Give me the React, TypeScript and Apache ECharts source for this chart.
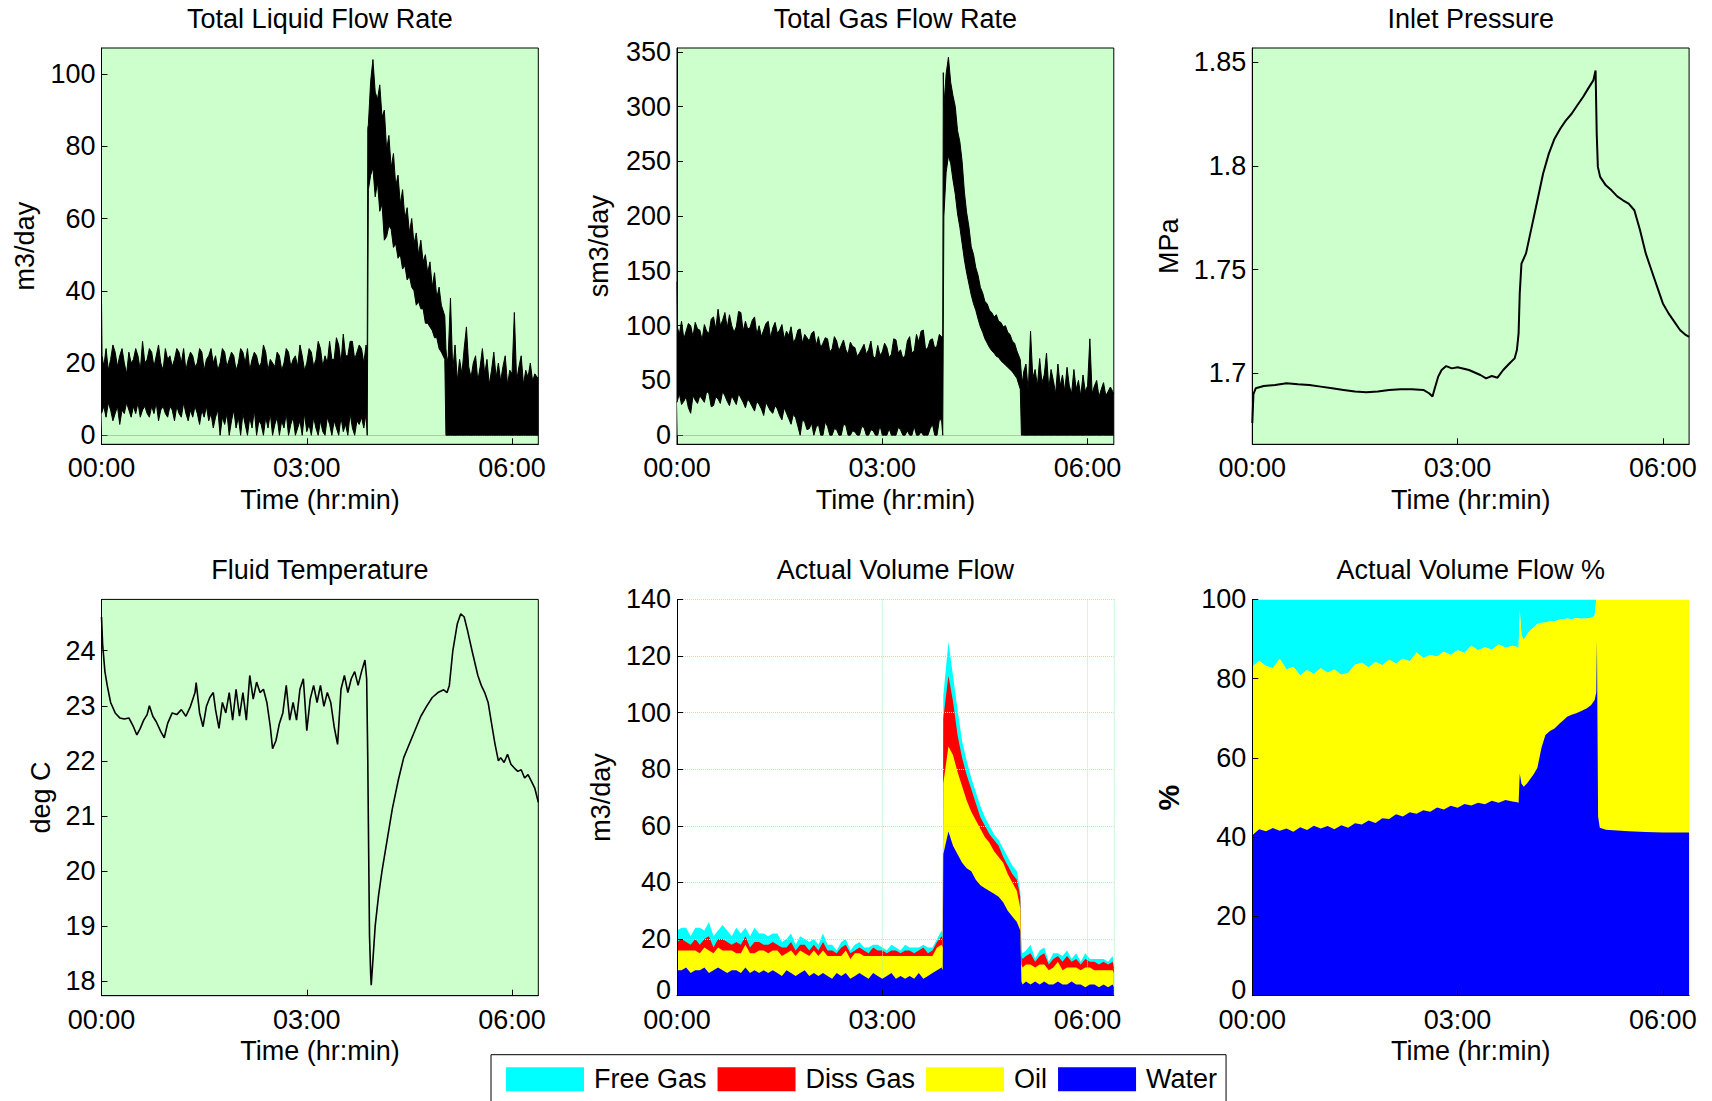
import React, { useEffect, useRef } from "react";
import * as echarts from "echarts";

// ---------- time base for the two flow-rate panels (minutes from 00:00) ----------
const bandMinutes = [
  0, 0.5,
  2, 4, 6, 8, 10, 12, 14, 16, 18, 20, 22, 24, 26, 28, 30, 32, 34, 36, 38, 40,
  42, 44, 46, 48, 50, 52, 54, 56, 58, 60, 62, 64, 66, 68, 70, 72, 74, 76, 78, 80,
  82, 84, 86, 88, 90, 92, 94, 96, 98, 100, 102, 104, 106, 108, 110, 112, 114, 116, 118, 120,
  122, 124, 126, 128, 130, 132, 134, 136, 138, 140, 142, 144, 146, 148, 150, 152, 154, 156, 158, 160,
  162, 164, 166, 168, 170, 172, 174, 176, 178, 180, 182, 184, 186, 188, 190, 192, 194, 196, 198, 200,
  202, 204, 206, 208, 210, 212, 214, 216, 218, 220, 222, 224, 226, 228, 230, 232,
  233, 233.5,
  234, 236, 238, 240, 242, 244, 246, 248, 250, 252, 254, 256, 258, 260, 262, 264, 266, 268, 270, 272,
  274, 276, 278, 280, 282, 284, 286, 288, 290, 292, 294, 296, 298,
  301,
  302, 303,
  304, 306, 308, 310, 312, 314, 316, 318, 320, 322, 324, 326, 328, 330, 332, 334, 336, 338, 340, 342,
  344, 346, 348, 350, 352, 354, 356, 358, 360, 362, 364, 366, 368, 370, 372, 374, 376, 378, 380, 382,
  383,
];

const timeTickLabels = ["00:00", "03:00", "06:00"];

// ---------- Total Liquid Flow Rate (m3/day): noise envelope ----------
const liquidHigh = [
  37, 22,
  19, 24, 18, 21, 25, 23, 19, 22, 24, 20,
  17, 23, 20, 21, 24, 22, 18, 26, 20, 21,
  24, 23, 19, 22, 25, 20, 18, 24, 21, 22,
  19, 21, 24, 23, 20, 24, 18, 21, 23, 22,
  19, 20, 24, 23, 18, 21, 22, 24, 20, 22,
  18, 20, 24, 23, 19, 21, 23, 22, 18, 20,
  24, 23, 20, 24, 18, 21, 23, 22, 19, 20,
  25, 23, 18, 21, 20, 19, 23, 22, 18, 20,
  24, 23, 19, 21, 22, 19, 25, 22, 18, 20,
  24, 23, 19, 21, 26, 24, 19, 22, 20, 26,
  21, 21, 27, 25, 20, 28, 22, 22, 26, 26,
  21, 23, 25, 24, 20, 25,
  22, 85,
  86, 98, 104, 95, 93, 97, 88, 90, 79, 83,
  74, 78, 69, 72, 64, 68, 60, 63, 56, 60,
  53, 56, 50, 54, 48, 50, 45, 48, 41, 45,
  38, 41, 36,
  33,
  24, 20,
  22, 38, 18, 25, 15, 21, 17, 24, 30, 19,
  16, 20, 22, 15, 19, 24, 17, 21, 14, 18,
  23, 16, 20, 15, 19, 22, 14, 18, 17, 34,
  15, 19, 22, 14, 18, 16, 20, 15, 17, 16,
  16,
];
const liquidLow = [
  6, 6,
  8, 5, 9, 7, 4, 6, 8, 3, 7, 6,
  9, 7, 5, 8, 6, 9, 5, 7, 8, 6,
  5, 8, 6, 9, 4, 7, 8, 6, 5, 8,
  7, 4, 8, 6, 5, 9, 6, 4, 7, 5,
  8, 6, 3, 7, 5, 8, 4, 6, 2, 5,
  7, 0, 5, 3, 6, 0, 4, 7, 2, 5,
  0, 6, 3, 0, 5, 2, 7, 0, 4, 3,
  0, 5, 2, 6, 0, 3, 5, 0, 4, 2,
  6, 0, 3, 5, 0, 2, 4, 0, 6, 1,
  3, 0, 5, 2, 0, 4, 1, 0, 5, 3,
  0, 4, 2, 0, 5, 1, 3, 0, 6, 2,
  0, 4, 3, 5, 2, 6,
  0, 0,
  68, 72, 74, 66, 70, 62, 64, 54, 55, 58,
  57, 52, 53, 49, 50, 46, 47, 43, 44, 41,
  40, 36, 37, 35, 35, 31, 31, 30, 29, 27,
  27, 24, 23,
  21,
  0, 0,
  0, 0, 0, 0, 0, 0, 0, 0, 0, 0,
  0, 0, 0, 0, 0, 0, 0, 0, 0, 0,
  0, 0, 0, 0, 0, 0, 0, 0, 0, 0,
  0, 0, 0, 0, 0, 0, 0, 0, 0, 0,
  0,
];

// ---------- Total Gas Flow Rate (sm3/day): noise envelope ----------
const gasHigh = [
  140, 98,
  92, 104, 88, 95, 102, 100, 90, 103, 97, 96,
  87, 101, 95, 93, 106, 108, 97, 115, 100, 105,
  112, 98, 110, 100, 94, 99, 113, 112, 95, 104,
  97, 98, 105, 108, 92, 100, 90, 96, 102, 104,
  89, 98, 103, 93, 96, 101, 88, 95, 91, 99,
  85, 88, 96, 97, 84, 92, 89, 86, 93, 95,
  82, 90, 80, 84, 89, 88, 76, 79, 90, 86,
  77, 82, 87, 78, 74, 85, 81, 80, 72, 75,
  79, 83, 74, 78, 86, 72, 70, 82, 73, 76,
  84, 80, 71, 74, 88, 87, 75, 78, 70, 73,
  86, 90, 75, 77, 92, 85, 95, 96, 78, 80,
  87, 88, 79, 82, 92, 90,
  90, 331,
  300, 330, 345, 322, 310, 300, 278, 268, 250, 222,
  203, 190, 172, 165, 153, 146, 135, 130, 122, 120,
  114, 112, 108, 110, 104, 103, 99, 100, 94, 92,
  86, 84, 77,
  69,
  55, 48,
  58, 65, 40, 95, 52, 60, 45, 70, 48, 55,
  75, 42, 60, 50, 38, 65, 45, 55, 40, 62,
  45, 38, 60, 42, 50, 36, 55, 40, 45, 88,
  38, 45, 50, 35, 42, 48, 36, 40, 44, 40,
  38,
];
const gasLow = [
  30, 30,
  38, 28, 31, 35, 25, 20, 36, 32, 29, 36,
  33, 30, 40, 38, 26, 27, 35, 33, 29, 40,
  36, 31, 27, 36, 32, 28, 38, 34, 30, 25,
  33, 30, 26, 22, 31, 28, 24, 18, 30, 26,
  22, 20, 27, 24, 18, 14, 25, 20, 15, 10,
  19, 16, 8, 0, 14, 12, 5, 6, 11, 0,
  7, 10, 0, 0, 12, 8, 0, 0, 6, 5,
  0, 0, 10, 9, 0, 0, 4, 3, 0, 0,
  8, 7, 0, 0, 5, 4, 0, 0, 9, 0,
  0, 0, 6, 0, 0, 0, 7, 5, 0, 0,
  4, 0, 0, 8, 0, 0, 3, 0, 0, 0,
  6, 10, 0, 0, 14, 14,
  0, 0,
  200, 240, 255, 248, 233, 220, 202, 190, 175, 160,
  148, 138, 128, 120, 114, 106, 99, 94, 88, 84,
  80, 77, 75, 72, 71, 68, 66, 64, 62, 60,
  58, 55, 52,
  42,
  0, 0,
  0, 0, 0, 0, 0, 0, 0, 0, 0, 0,
  0, 0, 0, 0, 0, 0, 0, 0, 0, 0,
  0, 0, 0, 0, 0, 0, 0, 0, 0, 0,
  0, 0, 0, 0, 0, 0, 0, 0, 0, 0,
  0,
];

// ---------- Inlet Pressure (MPa) ----------
const pressureMinutes = [
  0, 1, 3, 10, 20, 30, 40, 50, 60, 70,
  80, 90, 100, 110, 120, 130, 140, 150, 155, 158,
  160, 163, 166, 170, 175, 180, 190, 200, 205, 210,
  215, 220, 225, 230, 232, 233.5, 234.5, 236, 240, 245,
  250, 255, 260, 265, 270, 275, 280, 285, 290, 295,
  299, 301, 302, 303, 305, 310, 315, 320, 325, 330,
  335, 340, 345, 350, 355, 360, 365, 370, 375, 380,
  383,
];
const pressureValues = [
  1.676, 1.69, 1.6928, 1.6939, 1.6944, 1.6952, 1.6947, 1.6944, 1.6936, 1.6928,
  1.692, 1.6912, 1.6909, 1.6912, 1.692, 1.6923, 1.6923, 1.692, 1.6904, 1.6888,
  1.6928, 1.6984, 1.7016, 1.7035, 1.7024, 1.7029, 1.7016, 1.6992, 1.6976, 1.6987,
  1.6979, 1.7016, 1.7045, 1.7072, 1.7112, 1.7193, 1.7385, 1.7529, 1.7578, 1.7706,
  1.7834, 1.7963, 1.8059, 1.8131, 1.8179, 1.8219, 1.8251, 1.8292, 1.8332, 1.8377,
  1.8412, 1.846, 1.8155, 1.7995, 1.7947, 1.7906, 1.7882, 1.7853, 1.7834, 1.7818,
  1.7786, 1.769, 1.7578, 1.7497, 1.7417, 1.7337, 1.7289, 1.7249, 1.7209, 1.7185,
  1.7176,
];

// ---------- Fluid Temperature (deg C) ----------
const tempMinutes = [
  0, 1, 3, 5, 8, 12, 16, 20, 24, 28,
  31, 34, 37, 40, 42, 45, 48, 52, 55, 58,
  62, 66, 70, 74, 78, 82, 83, 86, 89, 92,
  95, 98, 100, 103, 106, 109, 112, 115, 118, 121,
  124, 127, 130, 133, 136, 139, 142, 145, 148, 150,
  153, 156, 159, 162, 165, 168, 171, 174, 177, 180,
  183, 186, 189, 192, 195, 198, 201, 204, 207, 210,
  213, 216, 219, 222, 225, 228, 231, 232.5, 233.5, 234,
  235, 236, 236.5, 238, 240, 243, 246, 250, 255, 260,
  265, 270, 275, 280, 285, 290, 295, 300, 303, 305,
  308, 312, 315, 318, 321, 325, 330, 333, 336, 339,
  342, 345, 348, 350, 353, 356, 359, 362, 365, 368,
  371, 374, 377, 380, 383,
];
const tempValues = [
  24.61, 24.11, 23.62, 23.37, 23.06, 22.87, 22.78, 22.76, 22.78, 22.62,
  22.47, 22.59, 22.74, 22.84, 23.0, 22.81, 22.71, 22.53, 22.42, 22.68,
  22.87, 22.84, 22.93, 22.81, 22.99, 23.24, 23.42, 22.87, 22.62, 22.99,
  23.15, 23.24, 22.93, 22.59, 23.06, 22.87, 23.24, 22.74, 23.3, 22.81,
  23.24, 22.74, 23.55, 23.12, 23.43, 23.24, 23.3, 23.06, 22.62, 22.22,
  22.37, 22.68, 22.87, 23.37, 22.74, 23.06, 22.74, 23.3, 23.49, 22.55,
  23.12, 23.37, 23.06, 23.37, 22.99, 23.24, 23.06, 22.62, 22.3, 23.3,
  23.55, 23.24, 23.49, 23.62, 23.37, 23.62, 23.83, 23.49, 22.0, 20.88,
  18.83, 18.14, 17.93, 18.39, 19.01, 19.57, 20.01, 20.51, 21.13, 21.63,
  22.06, 22.31, 22.56, 22.81, 22.99, 23.15, 23.24, 23.29, 23.24, 23.37,
  23.99, 24.49, 24.67, 24.61, 24.36, 23.99, 23.55, 23.37, 23.24, 23.06,
  22.68, 22.31, 22.0, 22.06, 21.97, 22.12, 21.94, 21.87, 21.81, 21.84,
  21.69, 21.75, 21.63, 21.5, 21.25,
];

// ---------- Actual Volume Flow (m3/day), per phase ----------
const flowMinutes = [
  0, 0.5, 4, 8, 12, 16, 20, 24, 28, 32, 36, 40, 44, 48, 52, 56, 60, 64, 68, 72, 76, 80, 84, 88, 92, 96, 100,
  104, 108, 112, 116, 120, 124, 128, 132, 136, 140, 144, 148, 152, 156, 160, 164, 168, 172, 176, 180, 184,
  188, 192, 196, 200, 204, 208, 212, 216, 220, 224, 228, 232,
  233, 233.5,
  234, 238, 242, 246, 250, 254, 258, 262, 266, 270, 274, 278, 282, 286, 290, 294, 298,
  301,
  302, 303, 306, 310, 314, 318, 322, 326, 330, 334, 338, 342, 346, 350, 354, 358, 362, 366, 370, 374, 378, 382,
  383,
];
const waterFlow = [
  9, 9, 9, 10, 8, 9, 9, 10, 8, 9, 10, 9, 8, 9, 9, 8, 10, 8, 9, 8, 9, 8,
  9, 8, 7, 9, 8, 7, 8, 9, 7, 8, 7, 8, 7, 6, 8, 7, 8, 6, 7, 8,
  7, 6, 8, 7, 6, 7, 8, 6, 7, 6, 7, 6, 8, 6, 7, 8, 9, 10,
  9, 50,
  50, 58, 53, 50, 47, 45, 44, 41, 39, 38, 37, 36, 35, 33, 30, 28, 26,
  23,
  5, 4, 5, 4, 5, 4, 5, 4, 4, 5, 4, 4, 5, 4, 4, 3, 4, 4, 3, 4, 3, 4,
  3,
];
const oilFlow = [
  7, 7, 7, 6, 8, 7, 6, 7, 8, 6, 7, 7, 8, 7, 6, 7, 8, 7, 6, 8, 7, 7,
  7, 8, 7, 6, 8, 7, 8, 6, 7, 8, 7, 8, 7, 8, 6, 7, 8, 7, 8, 7,
  7, 8, 6, 7, 8, 7, 6, 8, 7, 8, 7, 8, 6, 8, 7, 6, 8, 8,
  8, 25,
  25, 30, 32, 29, 27, 24, 21, 21, 20, 18, 17, 15, 14, 14, 13, 12, 11,
  8,
  6, 6, 6, 7, 5, 7, 6, 5, 6, 7, 5, 6, 5, 6, 5, 7, 6, 5, 6, 5, 6, 5,
  5,
];
const dissGasFlow = [
  3, 3, 4, 3, 2, 4, 3, 3, 5, 2, 3, 4, 3, 2, 4, 3, 3, 2, 4, 3, 2, 3,
  3, 2, 3, 2, 3, 2, 2, 3, 2, 2, 2, 3, 2, 2, 1, 3, 2, 2, 1, 2,
  2, 1, 3, 2, 2, 1, 2, 2, 1, 2, 2, 1, 2, 3, 1, 2, 2, 3,
  3, 23,
  23, 25, 19, 13, 10, 9, 8, 6, 4, 4, 3, 4, 4, 2, 3, 3, 4,
  4,
  3, 3, 3, 4, 2, 3, 4, 2, 3, 2, 3, 4, 2, 3, 2, 3, 2, 3, 2, 3, 2, 3,
  2,
];
const freeGasFlow = [
  4, 4, 4, 5, 3, 4, 6, 3, 5, 4, 3, 5, 4, 3, 5, 4, 3, 4, 5, 3, 4, 3,
  3, 4, 2, 3, 3, 2, 3, 2, 3, 2, 2, 3, 2, 2, 1, 2, 2, 1, 2, 2,
  1, 2, 1, 2, 1, 1, 2, 1, 1, 2, 1, 2, 1, 1, 2, 1, 1, 2,
  2, 8,
  8, 12, 9, 9, 6, 5, 4, 4, 4, 3, 3, 2, 2, 3, 3, 3, 3,
  2,
  2, 2, 2, 3, 1, 2, 2, 1, 2, 1, 2, 2, 1, 2, 1, 2, 1, 1, 2, 1, 1, 2,
  1,
];

// ---------- Actual Volume Flow % ----------
const pctMinutes = [
  0, 6, 12, 18, 24, 30, 36, 42, 48, 54,
  60, 66, 72, 78, 84, 90, 96, 102, 108, 114,
  120, 126, 132, 138, 144, 150, 156, 162, 168, 174,
  180, 186, 192, 198, 204, 210, 216, 222, 228,
  232.5, 233.5, 234.5, 236, 238, 241, 244, 247, 250, 253.5,
  257, 261, 265, 269.5, 273, 276, 280, 284, 288, 293,
  297, 300.2, 301.6, 302.2, 303.2, 304.7, 310, 320, 330, 345,
  360, 383,
];
// top of the water layer (%)
const waterPct = [
  40.5, 42.0, 41.5, 42.3, 41.6, 42.2, 41.4, 42.5, 41.8, 42.9,
  42.2, 42.8, 42.0, 43.0, 42.4, 43.5, 43.2, 44.2, 43.6, 44.8,
  44.6, 45.8, 45.2, 46.3, 45.9, 46.8, 46.4, 47.5, 47.0, 47.9,
  47.4, 48.4, 48.0, 48.7, 48.3, 49.2, 48.7, 49.4, 49.0,
  48.8, 48.6, 56.1, 53.5, 52.7, 53.6, 54.8, 56.0, 57.5, 62.5,
  65.8, 66.8, 67.4, 68.7, 69.6, 70.4, 70.9, 71.3, 71.8, 72.5,
  73.3, 74.6, 76.5, 89.8, 45.2, 42.4, 41.9, 41.7, 41.5, 41.3,
  41.2, 41.2,
];
// top of the oil layer = water + oil (%); free gas fills the rest up to 100
const liquidPct = [
  83.0, 84.5, 83.2, 82.6, 85.0, 82.3, 83.0, 80.8, 82.2, 81.2,
  82.6, 81.5, 82.3, 81.0, 81.4, 83.5, 84.0, 82.8, 84.2, 83.4,
  84.8, 83.8, 85.0, 84.4, 86.6, 85.2, 86.0, 85.6, 86.8, 86.0,
  87.2, 86.5, 88.3, 87.2, 87.9, 87.3, 88.6, 87.8, 88.3,
  88.0, 87.6, 97.3, 91.0, 89.8, 91.2, 92.3, 93.0, 93.8, 94.1,
  94.2, 94.5, 94.4, 94.9, 95.0, 95.2, 95.0, 95.3, 95.1, 95.2,
  95.4, 95.8, 100, 100, 100, 100, 100, 100, 100, 100,
  100, 100,
];

const phaseNames = ["Free Gas", "Diss Gas", "Oil", "Water"];
const phaseColors = ["#00ffff", "#ff0000", "#ffff00", "#0000ff"];

// ---------- layout / style ----------
const FONT = "'Liberation Sans', Arial, Helvetica, sans-serif";
const FS = 27;
const GRID_W = 436.8;
const GRID_H = 396.3;
const COL_LEFT = [101.5, 677, 1252.3];
const ROW_TOP = [48, 599.4];
const BG = "#ccffcc";

const titles = [
  "Total Liquid Flow Rate",
  "Total Gas Flow Rate",
  "Inlet Pressure",
  "Fluid Temperature",
  "Actual Volume Flow",
  "Actual Volume Flow %",
];

function hhmm(v: number): string {
  const idx = Math.round(v / 180);
  if (Math.abs(v - idx * 180) < 1e-6 && idx < timeTickLabels.length) return timeTickLabels[idx];
  return "";
}

function pairs(xs: number[], ys: number[]) {
  return xs.map((x, i) => [x, ys[i]]);
}

function buildOption() {
  const grids = [0, 1, 2, 3, 4, 5].map((i) => ({
    left: COL_LEFT[i % 3],
    top: ROW_TOP[Math.floor(i / 3)],
    width: GRID_W,
    height: GRID_H,
    show: i < 4,
    backgroundColor: BG,
    borderColor: "#000",
    borderWidth: 1,
    containLabel: false,
    outerBoundsMode: "none",
  }));

  const xAxes = [0, 1, 2, 3, 4, 5].map((i) => ({
    type: "value",
    gridIndex: i,
    min: 0,
    max: 383,
    interval: 180,
    z: i >= 4 ? 5 : 0,
    axisLine: { show: true, onZero: false, lineStyle: { color: "#000", width: 1 } },
    axisTick: { show: true, inside: true, length: 6, lineStyle: { color: "#000" } },
    axisLabel: {
      formatter: hhmm,
      fontSize: FS,
      lineHeight: 20,
      color: "#000",
      margin: 14,
      fontFamily: FONT,
      showMaxLabel: false,
    },
    splitLine: { show: i === 4, lineStyle: { type: "dotted", color: "#b3ecb3", width: 1 } },
    name: i === 4 ? "" : "Time (hr:min)",
    nameLocation: "middle",
    nameGap: 42,
    nameTextStyle: { fontSize: FS, color: "#000", fontFamily: FONT },
  }));

  // the "0" label of the bottom-row stacked panels is lifted slightly so it clears "00:00"
  const liftZero = (v: number) => (v === 0 ? "{lift|0}" : String(v));

  const yBase = (i: number, extra: any) => ({
    type: "value",
    gridIndex: i,
    z: i >= 4 ? 5 : 0,
    axisLine: { show: true, onZero: false, lineStyle: { color: "#000", width: 1 } },
    axisTick: { show: true, inside: true, length: 6, lineStyle: { color: "#000" } },
    axisLabel: {
      fontSize: FS,
      lineHeight: 20,
      color: "#000",
      margin: 6,
      fontFamily: FONT,
      showMinLabel: i >= 4,
      showMaxLabel: i >= 4,
      ...(i >= 4
        ? {
            formatter: liftZero,
            rich: {
              lift: { fontSize: FS, fontFamily: FONT, color: "#000", padding: [0, 0, 12, 0] },
            },
          }
        : {}),
    },
    splitLine: { show: i === 4, lineStyle: { type: "dotted", color: "#b3ecb3", width: 1 } },
    nameLocation: "middle",
    nameTextStyle: { fontSize: FS, color: "#000", fontFamily: FONT },
    ...extra,
  });

  const yAxes = [
    yBase(0, { min: -2.5, max: 107.2, splitNumber: 5, name: "m3/day", nameGap: 63 }),
    yBase(1, { min: -8.3, max: 353.5, splitNumber: 7, name: "sm3/day", nameGap: 65 }),
    yBase(2, { min: 1.6658, max: 1.8568, splitNumber: 4, name: "MPa", nameGap: 70 }),
    yBase(3, { min: 17.74, max: 24.93, splitNumber: 7, name: "deg C", nameGap: 47 }),
    yBase(4, { min: 0, max: 140, interval: 20, name: "m3/day", nameGap: 63 }),
    yBase(5, {
      min: 0,
      max: 100,
      interval: 20,
      name: "%",
      nameGap: 69,
      nameTextStyle: { fontSize: 29, color: "#000", fontFamily: FONT, fontWeight: "bold" },
    }),
  ];

  const lineBase = {
    type: "line",
    symbol: "none",
    showSymbol: false,
    silent: true,
    animation: false,
  };

  const series: any[] = [];

  // Panels 1 & 2: noise band = black area up to the high envelope, green area up to the low envelope
  const bands: [number[], number[], number][] = [
    [liquidHigh, liquidLow, 0],
    [gasHigh, gasLow, 1],
  ];
  bands.forEach(([hi, lo, g]) => {
    series.push({
      ...lineBase,
      name: "hi" + g,
      xAxisIndex: g,
      yAxisIndex: g,
      data: pairs(bandMinutes, hi),
      lineStyle: { color: "#000", width: 1 },
      areaStyle: { color: "#000", opacity: 1 },
      z: 2,
    });
    series.push({
      ...lineBase,
      name: "lo" + g,
      xAxisIndex: g,
      yAxisIndex: g,
      data: pairs(bandMinutes, lo),
      lineStyle: { color: "#000", width: 1 },
      areaStyle: { color: BG, opacity: 1 },
      z: 3,
    });
  });

  // Panel 3: pressure
  series.push({
    ...lineBase,
    name: "pressure",
    xAxisIndex: 2,
    yAxisIndex: 2,
    data: pairs(pressureMinutes, pressureValues),
    lineStyle: { color: "#000", width: 2 },
  });

  // Panel 4: temperature
  series.push({
    ...lineBase,
    name: "temperature",
    xAxisIndex: 3,
    yAxisIndex: 3,
    data: pairs(tempMinutes, tempValues),
    lineStyle: { color: "#000", width: 1.6 },
  });

  // Panel 5: cumulative layers, drawn from the top layer down (each filled to 0)
  const cumWater = waterFlow.slice();
  const cumOil = waterFlow.map((w, i) => w + oilFlow[i]);
  const cumDiss = cumOil.map((v, i) => v + dissGasFlow[i]);
  const cumFree = cumDiss.map((v, i) => v + freeGasFlow[i]);
  const layers = [cumFree, cumDiss, cumOil, cumWater];
  layers.forEach((vals, k) => {
    series.push({
      ...lineBase,
      name: phaseNames[k],
      xAxisIndex: 4,
      yAxisIndex: 4,
      data: pairs(flowMinutes, vals),
      color: phaseColors[k],
      itemStyle: { color: phaseColors[k] },
      lineStyle: { width: 0, color: phaseColors[k] },
      areaStyle: { color: phaseColors[k], opacity: 1 },
      z: 2 + k,
    });
  });

  // Panel 6: free gas fills from the oil top up to 100, oil from 0 to its top, water over it
  series.push({
    ...lineBase,
    name: "Free Gas",
    xAxisIndex: 5,
    yAxisIndex: 5,
    data: pairs(pctMinutes, liquidPct),
    color: phaseColors[0],
    itemStyle: { color: phaseColors[0] },
    lineStyle: { width: 0, color: phaseColors[0] },
    areaStyle: { color: phaseColors[0], opacity: 1, origin: "end" },
    z: 2,
  });
  series.push({
    ...lineBase,
    name: "Oil",
    xAxisIndex: 5,
    yAxisIndex: 5,
    data: pairs(pctMinutes, liquidPct),
    color: phaseColors[2],
    itemStyle: { color: phaseColors[2] },
    lineStyle: { width: 0, color: phaseColors[2] },
    areaStyle: { color: phaseColors[2], opacity: 1 },
    z: 3,
  });
  series.push({
    ...lineBase,
    name: "Water",
    xAxisIndex: 5,
    yAxisIndex: 5,
    data: pairs(pctMinutes, waterPct),
    color: phaseColors[3],
    itemStyle: { color: phaseColors[3] },
    lineStyle: { width: 0, color: phaseColors[3] },
    areaStyle: { color: phaseColors[3], opacity: 1 },
    z: 4,
  });

  const titleY = [19, 570];
  const graphic = titles.map((t, i) => ({
    type: "text",
    x: COL_LEFT[i % 3] + GRID_W / 2,
    y: titleY[Math.floor(i / 3)],
    silent: true,
    style: {
      text: t,
      fontSize: FS,
      fontFamily: FONT,
      fill: "#000",
      align: "center",
      verticalAlign: "middle",
      textAlign: "center",
      textVerticalAlign: "middle",
    },
  }));

  return {
    animation: false,
    backgroundColor: "#fff",
    textStyle: { fontFamily: FONT },
    grid: grids,
    xAxis: xAxes,
    yAxis: yAxes,
    series,
    graphic,
    legend: {
      show: true,
      left: 491,
      top: 1054.7,
      orient: "horizontal",
      itemWidth: 78,
      itemHeight: 24,
      itemGap: 11,
      padding: [11, 9, 11, 15],
      borderColor: "#000",
      borderWidth: 1,
      borderRadius: 0,
      backgroundColor: "#fff",
      selectedMode: false,
      icon: "rect",
      textStyle: { fontSize: FS, color: "#000", fontFamily: FONT, padding: [0, 0, 0, 5] },
      data: phaseNames.map((n) => ({ name: n, icon: "rect" })),
    },
  };
}

export default function App() {
  const ref = useRef<HTMLDivElement>(null);
  useEffect(() => {
    if (!ref.current) return;
    const chart = echarts.init(ref.current, null, { renderer: "svg" });
    chart.setOption(buildOption() as any);
    return () => chart.dispose();
  }, []);
  return (
    <div
      ref={ref}
      style={{ position: "fixed", left: 0, top: 0, width: 1712, height: 1101, background: "#fff" }}
    />
  );
}
